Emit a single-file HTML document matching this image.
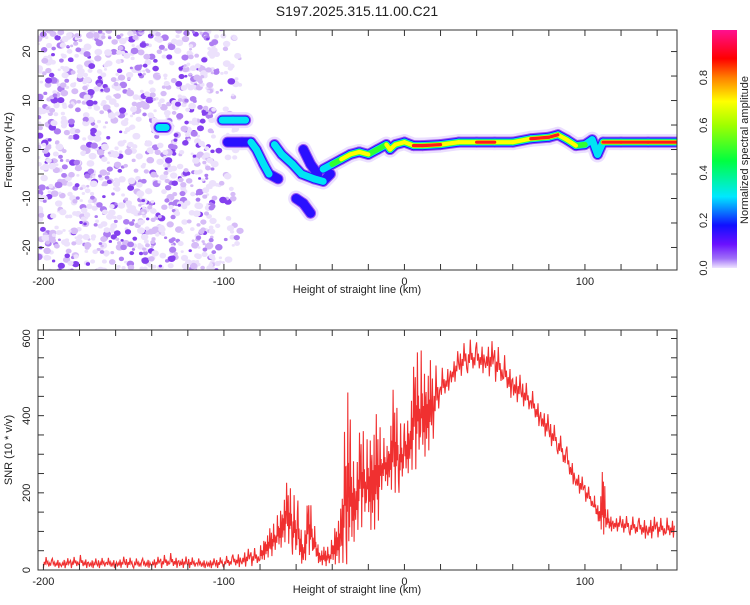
<!DOCTYPE html>
<html><head><meta charset="utf-8"><style>
body{margin:0;background:#fff;}
svg text{font-family:"Liberation Sans",sans-serif;fill:#222;}
</style></head><body>
<svg id="c" width="750" height="600" xmlns="http://www.w3.org/2000/svg">
<defs>
<linearGradient id="cb" x1="0" y1="1" x2="0" y2="0">
<stop offset="0" stop-color="#efe4ff"/><stop offset="0.04" stop-color="#a070f8"/><stop offset="0.1" stop-color="#6a10ff"/>
<stop offset="0.18" stop-color="#1010ff"/><stop offset="0.3" stop-color="#00e8ff"/><stop offset="0.45" stop-color="#00ff40"/>
<stop offset="0.6" stop-color="#a0ff00"/><stop offset="0.7" stop-color="#ffff00"/><stop offset="0.8" stop-color="#ff8000"/>
<stop offset="0.88" stop-color="#ff0000"/><stop offset="1" stop-color="#ff1090"/>
</linearGradient>
<clipPath id="clipTop"><rect x="38" y="30" width="639" height="240"/></clipPath>
<clipPath id="clipBot"><rect x="38" y="330" width="639" height="240"/></clipPath>
</defs>
<text x="357" y="16" font-size="14" text-anchor="middle">S197.2025.315.11.00.C21</text>
<g id="topG" clip-path="url(#clipTop)"></g>
<g id="botG" clip-path="url(#clipBot)"></g>
<g id="axes"></g>
<rect x="712" y="30" width="25" height="238" fill="url(#cb)"/>
<text transform="translate(748,150) rotate(-90)" font-size="11" text-anchor="middle">Normalized spectral amplitude</text>
<text transform="translate(12,150) rotate(-90)" font-size="11" text-anchor="middle">Frequency (Hz)</text>
<text transform="translate(12,450) rotate(-90)" font-size="11" text-anchor="middle">SNR (10 * v/v)</text>
<text x="357" y="293" font-size="11" text-anchor="middle">Height of straight line (km)</text>
<text x="357" y="593" font-size="11" text-anchor="middle">Height of straight line (km)</text>
</svg>
<script>
// ---- data ----
const xTicks=[-200,-100,0,100];
const freqTicks=[-20,-10,0,10,20];
const snrTicks=[0,200,400,600];
const cbTicks=[0,0.2,0.4,0.6,0.8];
// ridge tracks: km, Hz, amplitude
const trackMainKm=[-45,-40,-35,-30,-25,-20,-15,-10,-8,-5,0,5,10,20,30,40,50,60,70,80,85,90,95,100,104,107,110,120,135,152];
const trackMainHz=[-4,-3,-2,-1,-0.5,-1,0,1,0,1,1.5,0.8,0.8,1,1.5,1.5,1.5,1.5,2.2,2.5,3,2,0.8,1,2,-1,1.5,1.5,1.5,1.5];
const trackMainAmp=[0.3,0.45,0.65,0.65,0.6,0.85,0.55,0.7,0.85,0.6,0.7,0.85,0.85,0.85,0.7,0.9,0.9,0.7,0.85,0.8,0.9,0.7,0.85,0.55,0.3,0.25,0.9,0.9,0.9,0.9];
const trackAKm=[-101,-95,-88];const trackAHz=[6,6,6];const trackAAmp=[0.3,0.3,0.3];
const trackBKm=[-98,-90,-85,-82,-78,-75,-70];const trackBHz=[1.5,1.5,1.5,0,-3,-5,-6];const trackBAmp=[0.3,0.2,0.6,0.4,0.45,0.35,0.2];
const trackCKm=[-72,-68,-62,-57,-50,-45,-41];const trackCHz=[1,-1,-3,-5,-6,-6.5,-5];const trackCAmp=[0.3,0.3,0.35,0.25,0.35,0.3,0.2];
const trackDKm=[-56,-52,-48];const trackDHz=[0,-3,-5];const trackDAmp=[0.2,0.3,0.2];
const trackEKm=[-60,-56,-52];const trackEHz=[-10,-11,-13];const trackEAmp=[0.15,0.2,0.35];
const trackFKm=[-136,-132];const trackFHz=[4.5,4.5];const trackFAmp=[0.3,0.3];
// SNR envelope per bin (km centers), min & max
const snrKm=[-200,-195,-190,-185,-180,-175,-170,-165,-160,-155,-150,-145,-140,-135,-130,-125,-120,-115,-110,-105,-100,-95,-90,-85,-80,-77,-74,-71,-68,-65,-62,-59,-56,-53,-50,-47,-44,-41,-38,-35,-32,-30,-27,-24,-21,-18,-15,-12,-9,-6,-3,0,3,6,9,12,15,20,25,30,35,40,45,50,55,60,65,70,75,80,85,90,95,100,105,108,110,112,115,120,125,130,135,140,145,150];
const snrMin=[5,5,5,5,6,5,5,5,5,6,5,5,6,5,5,6,5,5,5,5,6,6,8,10,12,30,35,40,60,80,40,20,15,40,30,15,10,10,15,20,15,10,100,110,120,100,110,200,220,200,200,230,260,260,270,300,320,420,470,500,510,510,510,490,470,440,430,400,370,330,300,250,210,180,150,120,90,100,100,100,90,85,80,85,80,85];
const snrMax=[35,30,32,30,40,30,30,32,30,35,30,30,32,35,45,35,35,30,30,30,35,40,55,55,60,100,110,130,190,230,200,180,90,200,120,60,60,60,150,160,490,390,300,380,330,420,400,340,350,480,380,380,450,560,570,560,540,520,540,570,600,590,600,590,560,530,500,470,440,400,360,320,270,230,195,170,275,160,145,140,140,135,145,135,135,140];
// ---- scales ----
const X0=38,X1=677,KM0=-203,KM1=151;
const xs=v=>X0+(v-KM0)/(KM1-KM0)*(X1-X0);
const yT=v=>30+(24.4-v)/(24.4+24.6)*240;
const yB=v=>570-v/622*240;
const NS="http://www.w3.org/2000/svg";
function mk(tag,attrs,parent){const e=document.createElementNS(NS,tag);for(const k in attrs)e.setAttribute(k,attrs[k]);parent.appendChild(e);return e;}
const topGrp=document.getElementById('topG'),botGrp=document.getElementById('botG'),axesGrp=document.getElementById('axes');
// noise texture (deterministic)
let seed=12345;const rnd=()=>{seed=(seed*1103515245+12345)%2147483648;return seed/2147483648;};
const noiseG=mk('g',{},topGrp);


for(let i=0;i<1400;i++){
  const km=KM0+rnd()*(112);const hz=-25+rnd()*50;
  if(km>-105&&rnd()<0.6)continue;
  const r=rnd();const col=r<0.45?'#ece1fc':r<0.7?'#d6bcf7':r<0.88?'#ae7ef2':'#8440ee';
  const rx=1.5+rnd()*2.5;
  mk('ellipse',{cx:xs(km),cy:yT(hz),rx:rx,ry:rx*0.85,fill:col},noiseG);
}
// ridges
const layers=[[0,16,'#ebdfff'],[0.05,11,'#9a52f2'],[0.12,9,'#2a10ff'],[0.25,7,'#00e4f4'],[0.45,5.5,'#30ff30'],[0.6,4.2,'#ffff00'],[0.8,3.2,'#ff1a1a']];
const tracks=[[trackFKm,trackFHz,trackFAmp],[trackAKm,trackAHz,trackAAmp],[trackBKm,trackBHz,trackBAmp],[trackCKm,trackCHz,trackCAmp],[trackDKm,trackDHz,trackDAmp],[trackEKm,trackEHz,trackEAmp],[trackMainKm,trackMainHz,trackMainAmp]];
layers.forEach(([t,w,c])=>{
  tracks.forEach(([k,h,a])=>{
    for(let i=0;i<k.length-1;i++){
      const amp=Math.min(a[i],a[i+1]);
      if(amp<t)continue;
      const l=mk('line',{x1:xs(k[i]),y1:yT(h[i]),x2:xs(k[i+1]),y2:yT(h[i+1]),stroke:c,'stroke-width':w,'stroke-linecap':'round'},topGrp);
      
      
    }
  });
});
// SNR line: irregular oscillation between min & max within each bin
const wig=[0,0.55,0.3,1,0.4,0.62,0.15,0.5,0.25,0.8];
let pts=[];
for(let i=0;i<snrKm.length-1;i++){
  const n=wig.length;
  for(let j=0;j<n;j++){
    const f=j/n;const km=snrKm[i]+(snrKm[i+1]-snrKm[i])*f;
    const lo=snrMin[i]+(snrMin[i+1]-snrMin[i])*f,hi=snrMax[i]+(snrMax[i+1]-snrMax[i])*f;
    const v=lo+(hi-lo)*wig[(j+i*3)%n];
    pts.push(xs(km).toFixed(1)+','+yB(v).toFixed(1));
  }
}
const pl=mk('polyline',{points:pts.join(' '),fill:'none',stroke:'#f03030','stroke-width':1.1},botGrp);


// frames and ticks
function frame(y0,y1,name){const r=mk('rect',{x:X0,y:y0,width:X1-X0,height:y1-y0,fill:'none',stroke:'#333','stroke-width':1},axesGrp);}
frame(30,270,'top-plot-frame');frame(330,570,'bottom-plot-frame');
[[30,270],[330,570]].forEach(([a,b])=>{
  for(let v=-200;v<=150;v+=20){const x=xs(v);mk('line',{x1:x,y1:b,x2:x,y2:b-6,stroke:'#333'},axesGrp);mk('line',{x1:x,y1:a,x2:x,y2:a+6,stroke:'#333'},axesGrp);}
  xTicks.forEach(v=>{const t=mk('text',{x:xs(v),y:b+15,'font-size':11,'text-anchor':'middle'},axesGrp);t.textContent=v;});
});
for(let v=-20;v<=20;v+=5){const y=yT(v);mk('line',{x1:X0,y1:y,x2:X0+6,y2:y,stroke:'#333'},axesGrp);mk('line',{x1:X1,y1:y,x2:X1-6,y2:y,stroke:'#333'},axesGrp);}
freqTicks.forEach(v=>{const t=mk('text',{transform:`translate(30,${yT(v)}) rotate(-90)`,'font-size':11,'text-anchor':'middle'},axesGrp);t.textContent=v;});
for(let v=0;v<=600;v+=50){const y=yB(v);mk('line',{x1:X0,y1:y,x2:X0+6,y2:y,stroke:'#333'},axesGrp);mk('line',{x1:X1,y1:y,x2:X1-6,y2:y,stroke:'#333'},axesGrp);}
snrTicks.forEach(v=>{const t=mk('text',{transform:`translate(30,${yB(v)}) rotate(-90)`,'font-size':11,'text-anchor':'middle'},axesGrp);t.textContent=v;});
cbTicks.forEach(v=>{const y=268-v/1*238;const t=mk('text',{transform:`translate(707,${y}) rotate(-90)`,'font-size':11,'text-anchor':'middle'},axesGrp);t.textContent=v.toFixed(1);});
</script>
</body></html>
